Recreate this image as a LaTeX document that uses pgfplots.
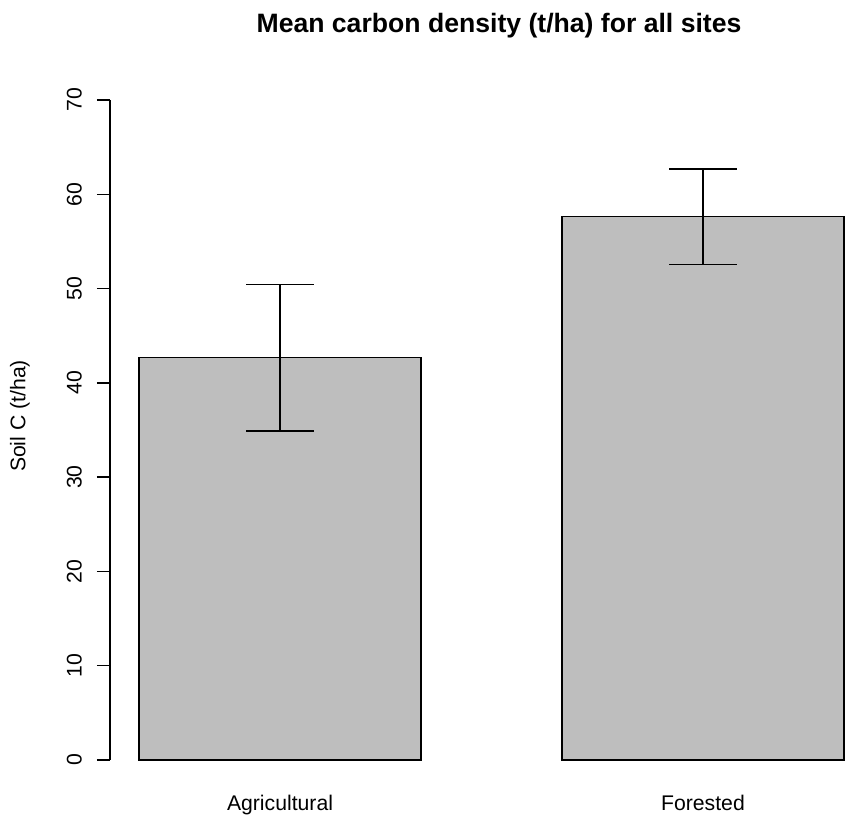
\documentclass[border=0pt]{standalone}
\usepackage{fontspec}
\setmainfont{Liberation Sans}
\usepackage{pgfplots}
\pgfplotsset{compat=1.18}
\definecolor{bargray}{RGB}{190,190,190}
\begin{document}
\begin{tikzpicture}
\begin{axis}[
  at={(0pt,0pt)}, anchor=south west,
  scale only axis,
  width=376pt, height=330pt,
  xmin=0.397, xmax=3.064,
  ymin=0, ymax=70,
  clip=false,
  axis y line*=left,
  axis x line*=bottom,
  x axis line style={draw=none},
  y axis line style={line width=0.75pt, black},
  xtick={1,2.5},
  xticklabels={Agricultural,Forested},
  xtick style={draw=none},
  ytick={0,10,...,70},
  ytick style={line width=0.75pt, black},
  tick align=outside,
  major tick length=6.5pt,
  /pgf/number format/assume math mode=true,
  yticklabel style={rotate=90, anchor=south, yshift=4pt, font=\fontsize{10.6}{12}\selectfont},
  xticklabel style={anchor=base, yshift=-19pt, font=\fontsize{10.6}{12}\selectfont},
  ybar, bar width=1,
]
\addplot[fill=bargray, draw=black, line width=0.75pt,
  error bars/.cd, y dir=both, y explicit,
  error bar style={line width=0.75pt, black},
  error mark options={rotate=90, mark size=16.8pt, line width=0.75pt, black}]
  coordinates {
    (1,42.67) +- (0,7.78)
    (2.5,57.62) +- (0,5.06)
  };
\end{axis}
\node[anchor=base, font=\bfseries\fontsize{13.3}{15}\selectfont] at (194.5pt,363.5pt) {Mean carbon density (t/ha) for all sites};
\node[rotate=90, anchor=center, font=\fontsize{10.6}{12}\selectfont] at (-45pt,172pt) {Soil C (t/ha)};
\pgfresetboundingbox
\useasboundingbox (-55pt,-28.5pt) rectangle (376pt,380pt);
\end{tikzpicture}
\end{document}
